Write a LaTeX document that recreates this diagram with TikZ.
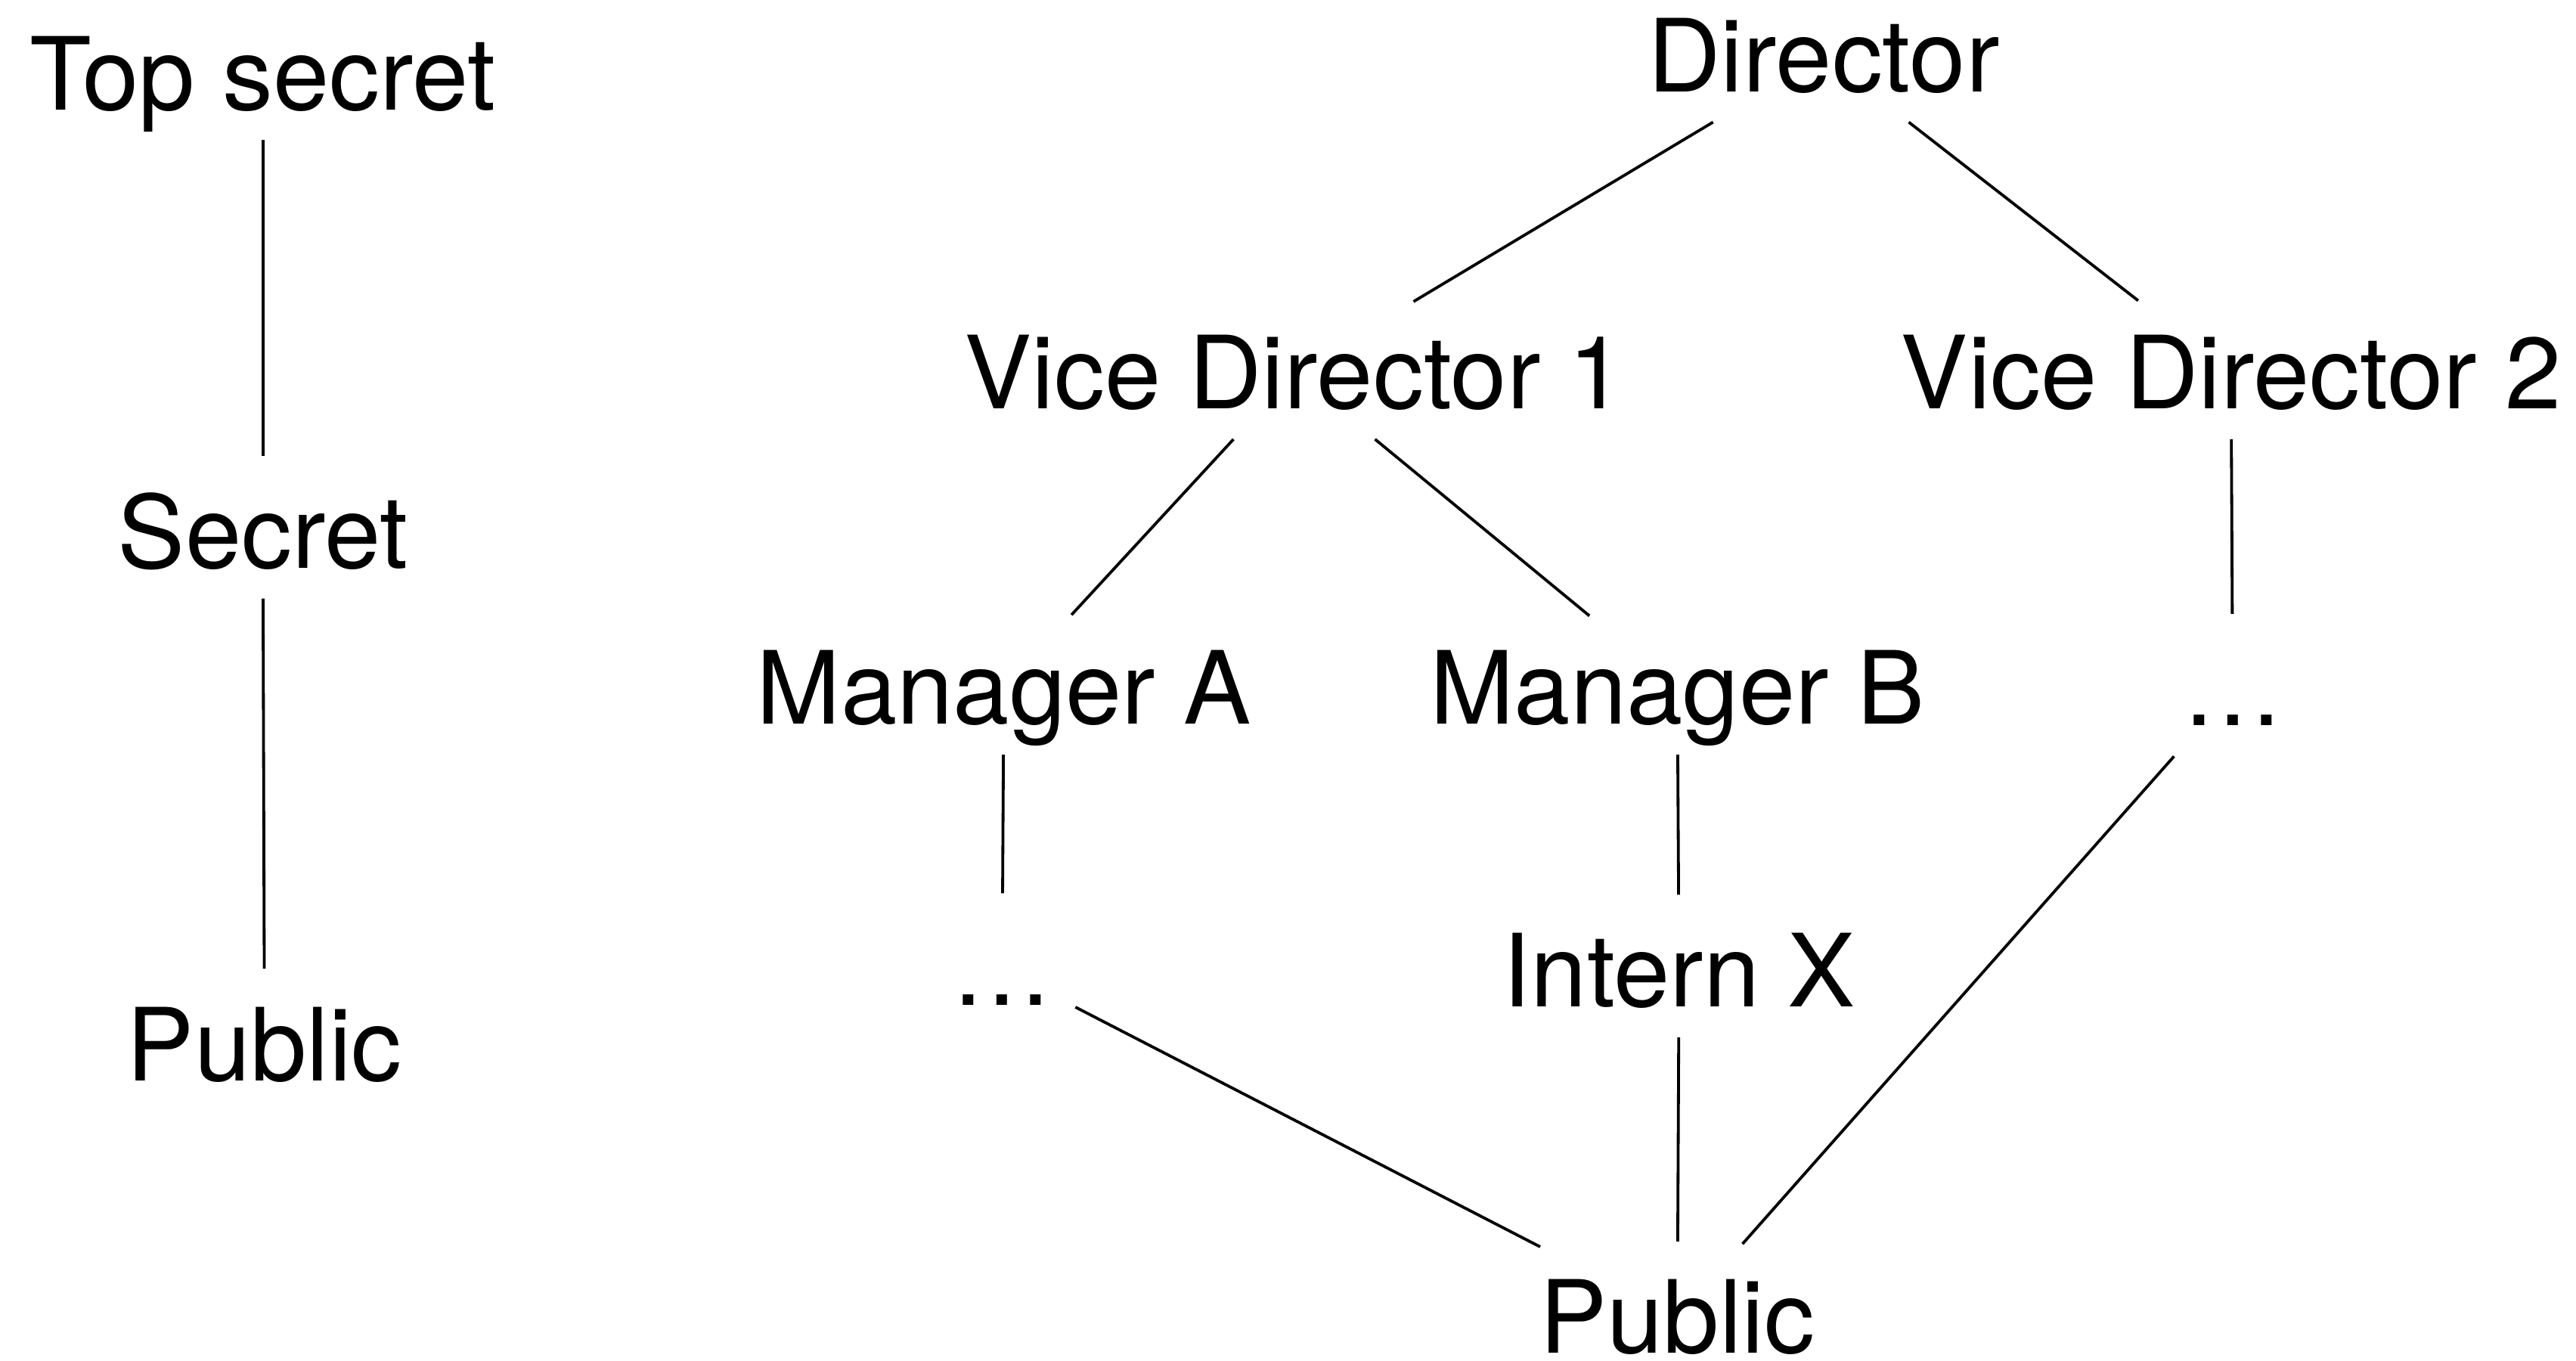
\documentclass[tikz,border=0pt]{standalone}
\usepackage{fontspec}
\setmainfont{TeX Gyre Heros}
\usepackage{tikz}
\tikzset{
	lvl/.style={inner xsep=0.27cm, inner ysep=0pt, minimum height=1.6cm, text height=0.87cm, text depth=0pt, font=\fontsize{35}{40}\selectfont},
	lnk/.style={line width=1pt, shorten >=0.12cm}
}
\newcommand{\lnk}[2]{\draw[lnk] (#1) -- (#2);}

\begin{document}
\begin{tikzpicture}
	\useasboundingbox (0,0) rectangle (31.36,-16.56);

	\node[lvl] (top) at (3.2,-0.9) {Top secret};
	\node[lvl] (sec) at (3.2,-6.48) {Secret};
	\node[lvl] (publ) at (3.22,-12.72) {Public};

	\node[lvl] (dir) at (22.2,-0.68) {Director};
	\node[lvl] (vd1) at (15.76,-4.54) {Vice Director 1};
	\node[lvl] (vd2) at (27.16,-4.54) {Vice Director 2};
	\node[lvl] (mga) at (12.22,-8.38) {Manager A};
	\node[lvl] (mgb) at (20.42,-8.38) {Manager B};
	\node[lvl] (dotr) at (27.18,-8.4) {\dots};
	\node[lvl] (dotl) at (12.2,-11.8) {\dots};
	\node[lvl] (int) at (20.44,-11.82) {Intern X};
	\node[lvl] (pub) at (20.42,-16.04) {Public};

	\lnk{top}{sec}
	\lnk{sec}{publ}

	\lnk{dir}{vd1}
	\lnk{dir}{vd2}
	\lnk{vd1}{mga}
	\lnk{vd1}{mgb}
	\lnk{vd2}{dotr}
	\lnk{mga}{dotl}
	\lnk{mgb}{int}
	\lnk{dotl}{pub}
	\lnk{int}{pub}
	\lnk{dotr}{pub}
\end{tikzpicture}
\end{document}
